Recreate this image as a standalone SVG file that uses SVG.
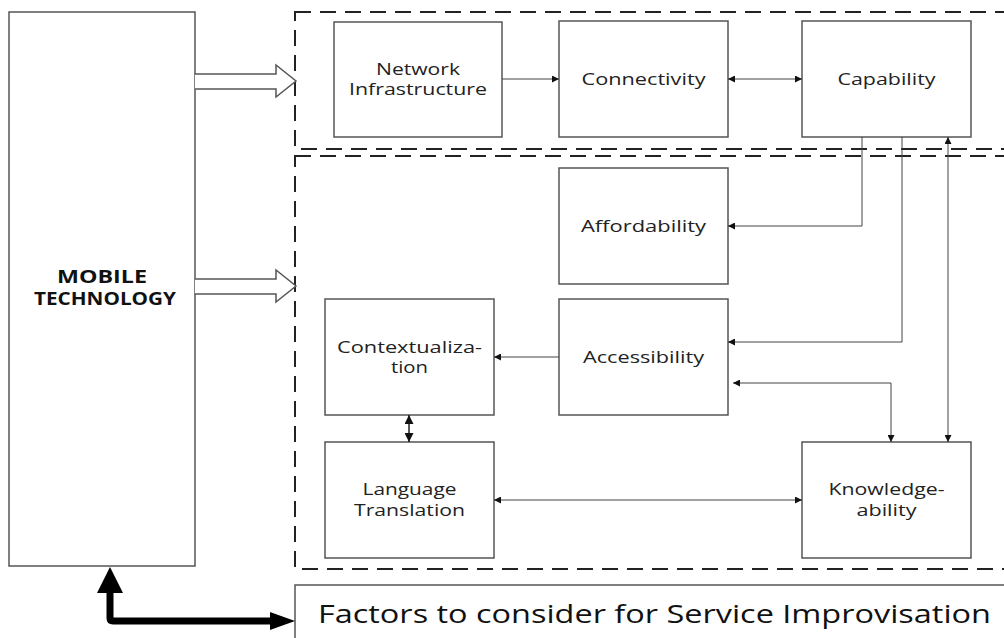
<svg xmlns="http://www.w3.org/2000/svg" width="1004" height="638" viewBox="0 0 1004 638">
<defs>
<style>
.box{fill:#fff;stroke:#555;stroke-width:1.5}
.dash{fill:none;stroke:#222;stroke-width:2;stroke-dasharray:16 9}
.lbl{font-family:"Open Sans","Liberation Sans",sans-serif;font-size:16px;fill:#222;text-anchor:middle}
.bold{font-weight:bold;fill:#111;font-size:17px}
.con{fill:none;stroke:#444;stroke-width:1}
.hollow{fill:#fff;stroke:#555;stroke-width:1.5;stroke-linejoin:miter}
</style>
<marker id="ah" viewBox="0 0 10 10" refX="10" refY="5" markerWidth="8" markerHeight="7" markerUnits="userSpaceOnUse" orient="auto-start-reverse">
<path d="M0,0 L10,5 L0,10 z" fill="#111"/>
</marker>
<marker id="ah2" viewBox="0 0 10 10" refX="10" refY="5" markerWidth="10" markerHeight="9" markerUnits="userSpaceOnUse" orient="auto-start-reverse">
<path d="M0,0 L10,5 L0,10 z" fill="#111"/>
</marker>
</defs>

<g id="mobile-technology">
<rect class="box" x="9" y="12" width="186" height="554"/>
<text class="lbl bold" x="102" y="283" textLength="90" lengthAdjust="spacingAndGlyphs">MOBILE</text>
<text class="lbl bold" x="105" y="305" textLength="142" lengthAdjust="spacingAndGlyphs">TECHNOLOGY</text>
</g>

<g id="group-top">
<rect class="dash" x="295" y="12" width="730" height="137"/>
</g>
<g id="group-bottom">
<rect class="dash" x="295" y="156" width="730" height="413"/>
</g>

<g id="network-infrastructure">
<rect class="box" x="334" y="22" width="168" height="115"/>
<text class="lbl" x="418" y="75" textLength="84" lengthAdjust="spacingAndGlyphs">Network</text>
<text class="lbl" x="418" y="95" textLength="138" lengthAdjust="spacingAndGlyphs">Infrastructure</text>
</g>
<g id="connectivity">
<rect class="box" x="559" y="21" width="169" height="116"/>
<text class="lbl" x="643.5" y="85" textLength="124" lengthAdjust="spacingAndGlyphs">Connectivity</text>
</g>
<g id="capability">
<rect class="box" x="802" y="21" width="169" height="116"/>
<text class="lbl" x="886.5" y="85" textLength="98" lengthAdjust="spacingAndGlyphs">Capability</text>
</g>
<g id="affordability">
<rect class="box" x="559" y="168" width="169" height="116"/>
<text class="lbl" x="643.5" y="232" textLength="125" lengthAdjust="spacingAndGlyphs">Affordability</text>
</g>
<g id="accessibility">
<rect class="box" x="559" y="299" width="169" height="116"/>
<text class="lbl" x="643.5" y="363" textLength="121" lengthAdjust="spacingAndGlyphs">Accessibility</text>
</g>
<g id="contextualization">
<rect class="box" x="325" y="299" width="169" height="116"/>
<text class="lbl" x="409.5" y="353" textLength="145" lengthAdjust="spacingAndGlyphs">Contextualiza-</text>
<text class="lbl" x="409.5" y="373" textLength="37" lengthAdjust="spacingAndGlyphs">tion</text>
</g>
<g id="language-translation">
<rect class="box" x="325" y="442" width="169" height="116"/>
<text class="lbl" x="409.5" y="495" textLength="94" lengthAdjust="spacingAndGlyphs">Language</text>
<text class="lbl" x="409.5" y="516" textLength="111" lengthAdjust="spacingAndGlyphs">Translation</text>
</g>
<g id="knowledgeability">
<rect class="box" x="802" y="442" width="169" height="116"/>
<text class="lbl" x="886.5" y="495" textLength="116" lengthAdjust="spacingAndGlyphs">Knowledge-</text>
<text class="lbl" x="886.5" y="516" textLength="60" lengthAdjust="spacingAndGlyphs">ability</text>
</g>
<g id="factors">
<rect class="box" x="295" y="585" width="730" height="80"/>
<text class="lbl" x="318" y="623" style="font-size:25px;text-anchor:start;fill:#111" textLength="673" lengthAdjust="spacingAndGlyphs">Factors to consider for Service Improvisation</text>
</g>

<g id="connectors">
<path class="hollow" d="M195,74 H276 V65 L296,81 L276,97 V89 H195"/>
<path class="hollow" d="M195,279 H276 V270 L296,286 L276,302 V294 H195"/>
<path class="con" d="M502,79 H559" marker-end="url(#ah)"/>
<path class="con" d="M728,79 H802" marker-start="url(#ah)" marker-end="url(#ah)"/>
<path class="con" d="M862,137 V226 H728" marker-end="url(#ah)"/>
<path class="con" d="M902,137 V342 H728" marker-end="url(#ah)"/>
<path class="con" d="M948,442 V137" marker-start="url(#ah)" marker-end="url(#ah)"/>
<path class="con" d="M733,383 H891 V442" marker-start="url(#ah)" marker-end="url(#ah)"/>
<path class="con" d="M559,357 H494" marker-end="url(#ah)"/>
<path class="con" style="stroke-width:1.5;stroke:#222" d="M409,415 V442" marker-start="url(#ah2)" marker-end="url(#ah2)"/>
<path class="con" d="M494,500 H802" marker-start="url(#ah)" marker-end="url(#ah)"/>
<path d="M110,593 V618 Q110,621 113,621 H272" fill="none" stroke="#000" stroke-width="7"/>
<path d="M110,567 L123,593 L97,593 z" fill="#000"/>
<path d="M295,621 L270,612 L270,630 z" fill="#000"/>
</g>
</svg>
